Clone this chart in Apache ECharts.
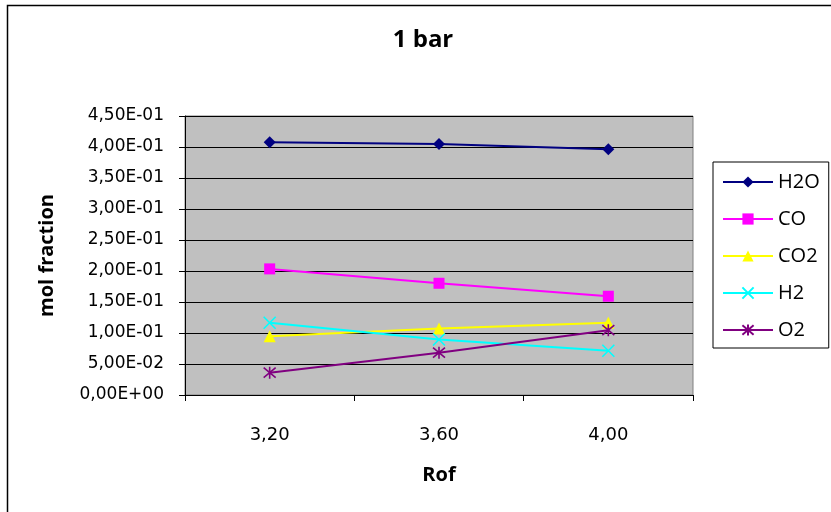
<!DOCTYPE html>
<html>
<head>
<meta charset="utf-8">
<script src="https://cdn.jsdelivr.net/npm/echarts@6/dist/echarts.min.js"></script>
<style>
  html, body { margin: 0; padding: 0; background: #fff; }
  #chart { width: 831px; height: 512px; }
</style>
</head>
<body>
<div id="chart"></div>
<script>
// Ratio of oxidiser to fuel (Rof) on the category axis
const categories = ['3,20', '3,60', '4,00'];

// Mole fractions of the product species at 1 bar
const h2o = [0.4077, 0.4050, 0.3965];
const co  = [0.2034, 0.1802, 0.1593];
const co2 = [0.0949, 0.1073, 0.1165];
const h2  = [0.1165, 0.0896, 0.0714];
const o2  = [0.0360, 0.0682, 0.1046];

const FONT = 'Open Sans';
const TICK_FONT = 'DejaVu Sans';

// Excel-style scientific label: 4,50E-01
function sci(v) {
  if (Math.abs(v) < 1e-12) return '0,00E+00';
  let e = Math.floor(Math.log10(Math.abs(v)) + 1e-9);
  let m = v / Math.pow(10, e);
  if (Math.abs(m) >= 9.995) { m /= 10; e += 1; }
  const sign = e < 0 ? '-' : '+';
  const ex = String(Math.abs(e)).padStart(2, '0');
  return m.toFixed(2).replace('.', ',') + 'E' + sign + ex;
}

const crossPath = 'path://M0,0L10,10M10,0L0,10';
const starPath = 'path://M0,0L10,10M10,0L0,10M5,-1L5,11';

function lineSeries(name, data, color, symbol, size, stroke) {
  return {
    name: name,
    type: 'line',
    data: data,
    symbol: symbol,
    symbolSize: size,
    showSymbol: true,
    color: color,
    lineStyle: { color: color, width: 2 },
    itemStyle: stroke
      ? { color: 'none', borderColor: color, borderWidth: 1.6 }
      : { color: color, borderWidth: 0 },
    emphasis: { disabled: true },
    animation: false
  };
}

const chart = echarts.init(document.getElementById('chart'), null, { renderer: 'canvas' });
chart.setOption({
  backgroundColor: '#ffffff',
  animation: false,
  textStyle: { fontFamily: FONT, color: '#000' },
  title: {
    text: '1 bar',
    left: 418,
    textAlign: 'center',
    top: 23,
    textStyle: { fontFamily: FONT, fontWeight: 'bold', fontSize: 24, color: '#000' }
  },
  graphic: [{
    type: 'rect',
    shape: { x: 7.5, y: 5.5, width: 840, height: 520 },
    style: { fill: 'none', stroke: '#000', lineWidth: 1.5 },
    silent: true
  }],
  legend: {
    orient: 'vertical',
    left: 713,
    top: 162,
    padding: [10, 9, 8, 9],
    borderColor: '#000',
    borderWidth: 1,
    backgroundColor: '#fff',
    itemWidth: 50,
    itemHeight: 14,
    itemGap: 17,
    textStyle: { fontFamily: FONT, fontSize: 20, color: '#000' },
    data: ['H2O', 'CO', 'CO2', 'H2', 'O2']
  },
  grid: {
    left: 185,
    right: 138,
    top: 116,
    bottom: 117,
    show: true,
    backgroundColor: '#c0c0c0',
    borderColor: '#808080',
    borderWidth: 1,
    containLabel: false
  },
  xAxis: {
    type: 'category',
    data: categories,
    boundaryGap: true,
    name: 'Rof',
    nameLocation: 'middle',
    nameGap: 70,
    nameTextStyle: { fontFamily: FONT, fontWeight: 'bold', fontSize: 20, color: '#000' },
    axisLine: { show: true, lineStyle: { color: '#000', width: 1 } },
    axisTick: { show: true, inside: false, length: 6, alignWithLabel: false, lineStyle: { color: '#000' } },
    axisLabel: { margin: 31, fontFamily: TICK_FONT, fontSize: 18, color: '#000' },
    splitLine: { show: false }
  },
  yAxis: {
    type: 'value',
    min: 0,
    max: 0.45,
    interval: 0.05,
    name: 'mol fraction',
    nameLocation: 'middle',
    nameGap: 128,
    nameRotate: 90,
    nameTextStyle: { fontFamily: FONT, fontWeight: 'bold', fontSize: 20, color: '#000' },
    axisLine: { show: true, lineStyle: { color: '#000', width: 1 } },
    axisTick: { show: true, inside: false, length: 6, lineStyle: { color: '#000' } },
    axisLabel: { margin: 21, fontFamily: TICK_FONT, fontSize: 17, color: '#000', formatter: sci },
    splitLine: { show: true, lineStyle: { color: '#000', width: 1 } }
  },
  series: [
    lineSeries('H2O', h2o, '#000080', 'diamond', 12, false),
    lineSeries('CO', co, '#ff00ff', 'rect', 11, false),
    lineSeries('CO2', co2, '#ffff00', 'triangle', 12, false),
    lineSeries('H2', h2, '#00ffff', crossPath, 12, true),
    lineSeries('O2', o2, '#800080', starPath, 12, true)
  ]
});
</script>
</body>
</html>
